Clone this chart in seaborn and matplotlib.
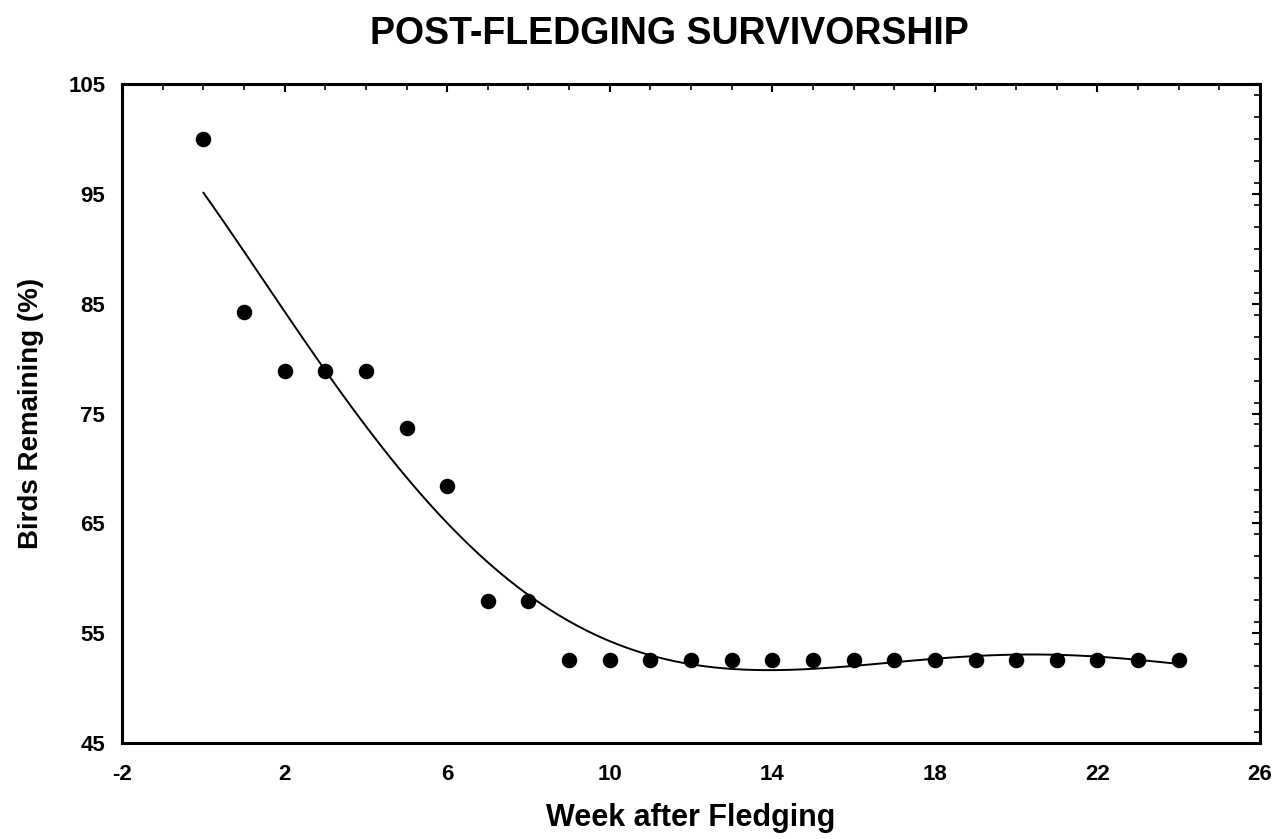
from __future__ import annotations

import matplotlib

matplotlib.use("Agg")
import matplotlib.pyplot as plt
import numpy as np
import pandas as pd
import seaborn as sns
from matplotlib.ticker import MultipleLocator

# Weeks after fledging and % of birds still present (19 birds tracked)
weeks = list(range(0, 25))
remaining = [100.0, 84.2, 78.9, 78.9, 78.9, 73.7, 68.4, 57.9, 57.9] + [52.6] * 16

x_ticks = [-2, 2, 6, 10, 14, 18, 22, 26]
y_ticks = [45, 55, 65, 75, 85, 95, 105]

W, H = 1276, 839


def main() -> None:
    df = pd.DataFrame({"week": weeks, "remaining": remaining})

    sns.set_theme(style="white")
    plt.rcParams["font.family"] = ["Liberation Sans", "DejaVu Sans"]
    plt.rcParams["axes.unicode_minus"] = False
    plt.rcParams["text.color"] = "black"
    plt.rcParams["axes.labelcolor"] = "black"
    plt.rcParams["xtick.color"] = "black"
    plt.rcParams["ytick.color"] = "black"

    fig = plt.figure(figsize=(W / 100, H / 100), dpi=100)
    ax = fig.add_axes([122 / W, 1 - 743 / H, (1260 - 122) / W, (743 - 84) / H])

    # smooth polynomial fit through the points
    sns.regplot(
        data=df,
        x="week",
        y="remaining",
        order=5,
        ci=None,
        scatter=False,
        truncate=True,
        line_kws={"color": "black", "linewidth": 1.4},
        ax=ax,
    )
    sns.scatterplot(
        data=df,
        x="week",
        y="remaining",
        s=125,
        color="black",
        edgecolor="black",
        linewidth=0,
        ax=ax,
        zorder=3,
    )

    ax.set_xlim(-2, 26)
    ax.set_ylim(45, 105)
    ax.set_xticks(x_ticks)
    ax.set_yticks(y_ticks)
    ax.xaxis.set_minor_locator(MultipleLocator(1))
    ax.yaxis.set_minor_locator(MultipleLocator(2))
    ax.tick_params(which="both", direction="in", top=True, right=True,
                   labeltop=False, labelright=False)
    ax.tick_params(which="major", length=6, width=1.5)
    ax.tick_params(which="minor", length=4, width=1.2)
    ax.tick_params(axis="x", which="major", pad=15)
    ax.tick_params(axis="y", which="major", pad=12)
    for lab in ax.get_xticklabels() + ax.get_yticklabels():
        lab.set_fontsize(16)
        lab.set_fontweight("bold")
    for sp in ax.spines.values():
        sp.set_color("black")
        sp.set_linewidth(2.2)

    ax.set_xlabel("Week after Fledging", fontsize=22, fontweight="bold")
    ax.set_ylabel("Birds Remaining (%)", fontsize=20, fontweight="bold")
    ax.xaxis.label.set_va("baseline")
    ax.xaxis.set_label_coords(0.5, -(826 - 743) / (743 - 84))
    ax.yaxis.set_label_coords(-(122 - 44) / (1260 - 122), 0.5)

    fig.text(669 / W, 1 - 44 / H, "POST-FLEDGING SURVIVORSHIP",
             ha="center", va="baseline", fontsize=27, fontweight="bold")

    fig.savefig("out.png", dpi=100)
    plt.close(fig)


if __name__ == "__main__":
    main()
